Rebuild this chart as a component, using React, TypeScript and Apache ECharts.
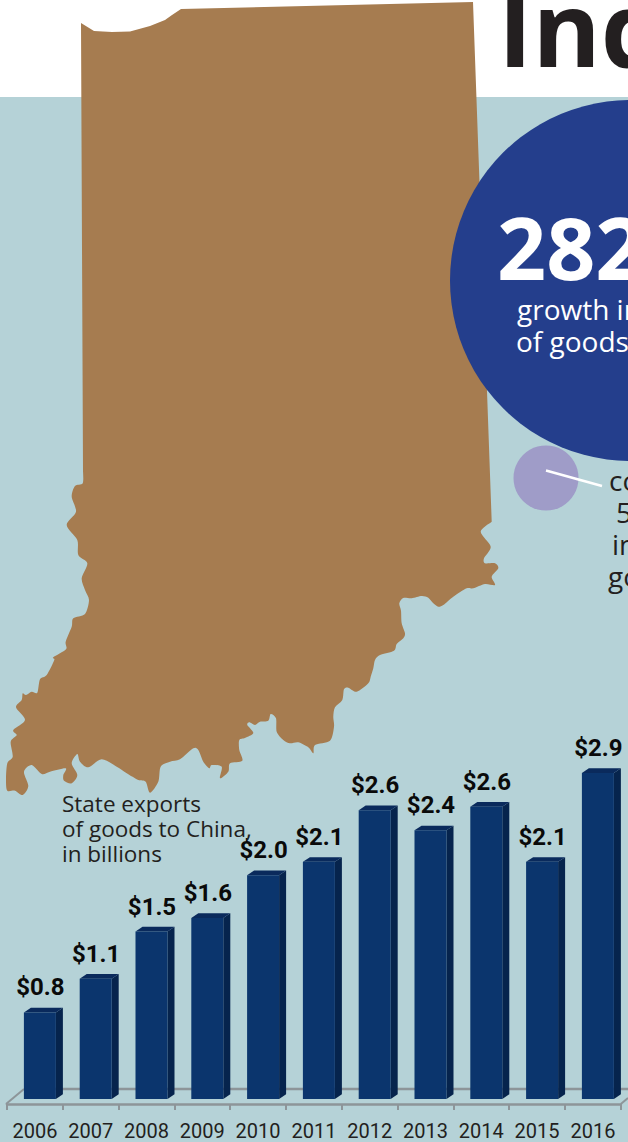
import React, { useEffect, useRef } from "react";
import * as echarts from "echarts";

const years = ["2006","2007","2008","2009","2010","2011","2012","2013","2014","2015","2016"];
const exportsToChina = [0.77,1.07,1.49,1.61,1.99,2.11,2.57,2.39,2.6,2.11,2.9];

const mapStraight: number[][] = [[83,470],[81,23],[94,31],[112,32],[130,31.5],[150,26],[165,20],[172,15],[181,9],[473,2],[491.7,521.7]];
const mapRiver: number[][] = [[480.7,531.7],[490.7,546.7],[484,558.3],[485,563.3],[495,563.3],[498.3,568.3],[491.7,576.7],[495,585],[485,584],[473.3,588.3],[466.7,588.3],[453.3,596.7],[443.3,605],[438.3,606.7],[433.3,603.3],[428.3,597.7],[421.7,596],[411.7,598.3],[403.3,598],[399.3,603.3],[401,610.7],[401.7,623.3],[405,633.3],[403.3,638.3],[396.7,644],[394,650.7],[380,655],[375,660],[373.3,668.3],[370.7,676.7],[368.3,683.3],[356.7,691.7],[348.3,687.7],[344,689.3],[342.3,700],[335,707.3],[333.3,716.7],[334,726.7],[330,740.7],[315,745],[313.3,753.3],[308.3,747.3],[298.3,742.3],[290,743.3],[283.3,740],[276.7,731.7],[276,718.3],[270.7,714],[268.3,720.7],[260,721.7],[255,725],[249.3,722.3],[247.3,725],[253.3,733],[245,738],[239.3,740],[239.3,750],[242.3,760.7],[230,763.3],[228.3,771.7],[220,778.3],[221.7,766.7],[211.7,765],[209.3,768.3],[203.3,761.7],[198.3,750],[193.3,748.3],[180,759.3],[170,761.7],[160.7,766.7],[158.3,781.7],[150,792.7],[145.7,781.7],[138.3,780],[126.7,773.3],[116.7,766.7],[101.7,759.3],[88.3,767.3],[80,761.7],[77.3,754],[71.7,763.3],[77.3,775],[71.7,783.3],[64,780.7],[63.3,775],[65.7,768.3],[50,771.7],[41.7,774],[31.7,765],[24,771.7],[28.3,786],[22.7,795],[15,790.7],[7.3,790.7],[6,780],[7.3,763.3],[12.7,756.7],[10.7,741.7],[16.7,735],[13.3,730],[25,720],[16,707.3],[21.7,700],[22.7,693.3],[26,695],[31.7,691.7],[37.3,692.7],[40,679.3],[46.7,675],[54.3,660],[53.3,657.3],[66,649.3],[65.7,641.7],[71.7,626.7],[73.3,618.3],[85,614],[89,600],[85,590],[81.7,578.3],[87.3,563.3],[78.3,555],[77.3,540],[66.7,525],[76,511.7],[71.7,496.7],[75,486],[82.7,483.3]];

function outlinePath(): string {
  let d = `M${mapStraight[0][0]} ${mapStraight[0][1]}`;
  for (const p of mapStraight.slice(1)) d += `L${p[0]} ${p[1]}`;
  const run = [mapStraight[mapStraight.length - 1], ...mapRiver, mapStraight[0]];
  for (let i = 0; i < run.length - 1; i++) {
    const p0 = run[Math.max(i - 1, 0)], p1 = run[i], p2 = run[i + 1], p3 = run[Math.min(i + 2, run.length - 1)];
    const k = 1 / 7;
    d += `C${p1[0] + (p2[0] - p0[0]) * k} ${p1[1] + (p2[1] - p0[1]) * k} ${p2[0] - (p3[0] - p1[0]) * k} ${p2[1] - (p3[1] - p1[1]) * k} ${p2[0]} ${p2[1]}`;
  }
  return d + "Z";
}

echarts.graphic.registerShape("indianaOutline", echarts.graphic.extendPath(outlinePath(), {}) as any);

const ink = "#231f20";
const sans = "'Open Sans', sans-serif";
const bold = "Roboto, sans-serif";
const floor = "#8d9599";

function txt(text: string, x: number, baseline: number, weight: number, size: number, fill = ink) {
  return { type: "text", x, y: baseline - size * 0.92, z: 5, style: { text, font: `${weight} ${size}px ${sans}`, fill, textAlign: "left", textVerticalAlign: "top" } };
}

export default function App() {
  const ref = useRef<HTMLDivElement>(null);
  useEffect(() => {
    if (!ref.current) return;
    const chart = echarts.init(ref.current, undefined, { renderer: "svg" });
    const frontW = 32, depthX = 7, depthY = 4.7;
    chart.setOption({
      animation: false,
      grid: { left: 7, width: 613.8, top: 761.8, bottom: 43 },
      xAxis: {
        type: "category",
        data: years,
        offset: 5,
        z: 2,
        axisLine: { show: true, onZero: false, lineStyle: { color: floor, width: 2.5 } },
        axisTick: { show: true, lineStyle: { color: floor, width: 2 }, length: 6 },
        axisLabel: { color: ink, fontFamily: bold, fontWeight: 400, fontSize: 20, margin: 17, interval: 0 },
      },
      yAxis: { type: "value", min: 0, max: 3, show: false },
      graphic: [
        { type: "rect", z: -10, shape: { x: 0, y: 97, width: 628, height: 1045 }, style: { fill: "#b5d2d7" } },
        { type: "indianaOutline", z: -9, x: 0, y: 0, style: { fill: "#a67c50" } },
        { type: "circle", z: -8, shape: { cx: 630.5, cy: 280.5, r: 180.5 }, style: { fill: "#243e8c" } },
        { type: "circle", z: -8, shape: { cx: 546, cy: 478, r: 32.5 }, style: { fill: "#9f9cc8" } },
        { type: "line", z: -7, shape: { x1: 546, y1: 470.5, x2: 602, y2: 486 }, style: { stroke: "#ffffff", lineWidth: 2.5 } },
        { type: "line", z: -7, shape: { x1: 24, y1: 1089, x2: 628, y2: 1089 }, style: { stroke: floor, lineWidth: 2.5 } },
        { type: "line", z: -7, shape: { x1: 6, y1: 1104, x2: 24, y2: 1089 }, style: { stroke: floor, lineWidth: 2 } },
        { type: "line", z: -7, shape: { x1: 620.8, y1: 1104, x2: 628, y2: 1098 }, style: { stroke: floor, lineWidth: 2 } },
        txt("Ind", 498, 70, 700, 104),
        txt("282", 497, 283, 700, 86, "#ffffff"),
        txt("growth in", 517, 321, 400, 28, "#ffffff"),
        txt("of goods", 516, 353, 400, 28, "#ffffff"),
        txt("co", 609, 492, 400, 28),
        txt("5", 616, 524, 400, 28),
        txt("in", 612, 556, 400, 28),
        txt("go", 608, 588, 400, 28),
        txt("State exports", 62, 813, 400, 22.5),
        txt("of goods to China,", 62, 838, 400, 22.5),
        txt("in billions", 62, 863, 400, 22.5),
      ],
      series: [
        {
          type: "custom",
          data: exportsToChina,
          clip: false,
          z: 3,
          renderItem: (params: any, api: any) => {
            const value = api.value(1) as number;
            const [cx, top] = api.coord([api.value(0), value]);
            const [, base] = api.coord([api.value(0), 0]);
            const l = cx - 11;
            const r = l + frontW;
            return {
              type: "group",
              children: [
                { type: "polygon", shape: { points: [[r, top], [r + depthX, top - depthY], [r + depthX, base - depthY], [r, base]] }, style: { fill: "#06244d" } },
                { type: "polygon", shape: { points: [[l, top], [l + depthX, top - depthY], [r + depthX, top - depthY], [r, top]] }, style: { fill: "#0a2a5c" } },
                { type: "rect", shape: { x: l, y: top, width: frontW, height: base - top }, style: { fill: "#0b356d" } },
                { type: "text", x: l + frontW / 2 + 0.5, y: top - 13, style: { text: "$" + value.toFixed(1), font: `700 24px ${bold}`, fill: "#0a0a0a", textAlign: "center", textVerticalAlign: "bottom" } },
              ],
            };
          },
          encode: { x: 0, y: 1 },
        },
      ],
    });
    return () => chart.dispose();
  }, []);
  return <div ref={ref} style={{ position: "fixed", left: 0, top: 0, width: 628, height: 1142, background: "#ffffff" }} />;
}
